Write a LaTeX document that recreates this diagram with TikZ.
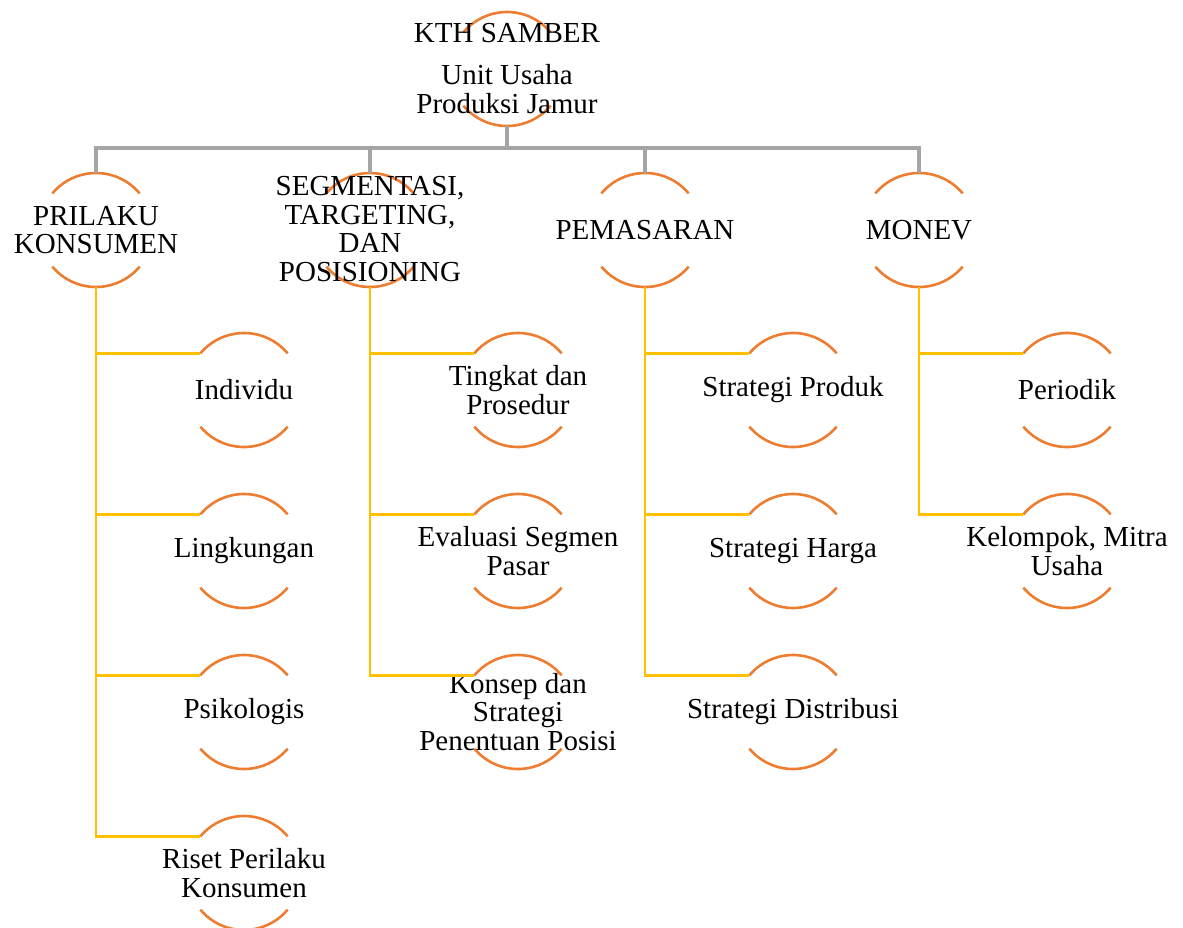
\documentclass[tikz,border=0pt]{standalone}
\usepackage{fontspec}
\setmainfont{Liberation Serif}
\usetikzlibrary{calc}
\definecolor{arcor}{HTML}{ED7D31}
\definecolor{gl}{HTML}{A5A5A5}
\definecolor{yl}{HTML}{FFC000}
\begin{document}
\begin{tikzpicture}[x=1pt,y=-1pt,
  circ/.style={circle,minimum size=114pt,inner sep=0pt,outer sep=0pt},
  arcst/.style={arcor,line width=2.6pt},
  gline/.style={gl,line width=3.4pt},
  yline/.style={yl,line width=2.6pt},
  lbl/.style={align=center,inner sep=0pt,font=\fontsize{29}{28.5}\selectfont}]
\useasboundingbox (0,0) rectangle (1183,927);
\newcommand{\arcs}[1]{%
  \draw[arcst] (#1.40) arc[start angle=40,end angle=140,radius=57pt];
  \draw[arcst] (#1.-140) arc[start angle=-140,end angle=-40,radius=57pt];}
% root
\node[circ] (r) at (507,69) {};
\arcs{r}
\node[lbl] (rt) at (507,33) {KTH SAMBER};
\node[lbl] (rs) at (507,89) {Unit Usaha\\Produksi Jamur};
% level 1
\node[circ] (a) at (96,230) {};
\node[circ] (b) at (370,230) {};
\node[circ] (c) at (645,230) {};
\node[circ] (d) at (919,230) {};
\foreach \n in {a,b,c,d}{\arcs{\n}}
\node[lbl] (at) at (96,230) {PRILAKU\\KONSUMEN};
\node[lbl] (bt) at (370,229) {SEGMENTASI,\\TARGETING,\\DAN\\POSISIONING};
\node[lbl] (ct) at (645,230) {PEMASARAN};
\node[lbl] (dt) at (919,230) {MONEV};
% children
\node[circ] (a1) at (244,390) {};
\node[circ] (a2) at (244,551) {};
\node[circ] (a3) at (244,712) {};
\node[circ] (a4) at (244,873) {};
\node[circ] (b1) at (518,390) {};
\node[circ] (b2) at (518,551) {};
\node[circ] (b3) at (518,712) {};
\node[circ] (c1) at (793,390) {};
\node[circ] (c2) at (793,551) {};
\node[circ] (c3) at (793,712) {};
\node[circ] (d1) at (1067,390) {};
\node[circ] (d2) at (1067,551) {};
\foreach \n in {a1,a2,a3,a4,b1,b2,b3,c1,c2,c3,d1,d2}{\arcs{\n}}
\node[lbl] (a1t) at (a1) {Individu};
\node[lbl] (a2t) at (a2) {Lingkungan};
\node[lbl] (a3t) at (a3) {Psikologis};
\node[lbl] (a4t) at (a4) {Riset Perilaku\\Konsumen};
\node[lbl] (b1t) at (b1) {Tingkat dan\\Prosedur};
\node[lbl] (b2t) at (b2) {Evaluasi Segmen\\Pasar};
\node[lbl] (b3t) at (b3) {Konsep dan\\Strategi\\Penentuan Posisi};
\node[lbl] (c1t) at (c1) {Strategi Produk};
\node[lbl] (c2t) at (c2) {Strategi Harga};
\node[lbl] (c3t) at (c3) {Strategi Distribusi};
\node[lbl] (d1t) at (d1) {Periodik};
\node[lbl] (d2t) at (d2) {Kelompok, Mitra\\Usaha};
% gray connectors
\coordinate (bus) at (507,148);
\draw[gline] (r.south) -- (bus);
\draw[gline] (a.north) -- (a.north |- bus) -- (d.north |- bus) -- (d.north);
\draw[gline] (b.north) -- (b.north |- bus);
\draw[gline] (c.north) -- (c.north |- bus);
% yellow connectors
\foreach \p/\k in {a/a1,a/a2,a/a3,a/a4,b/b1,b/b2,b/b3,c/c1,c/c2,c/c3,d/d1,d/d2}{
  \draw[yline] (\p.south) |- (\k.140);}
\end{tikzpicture}
\end{document}
